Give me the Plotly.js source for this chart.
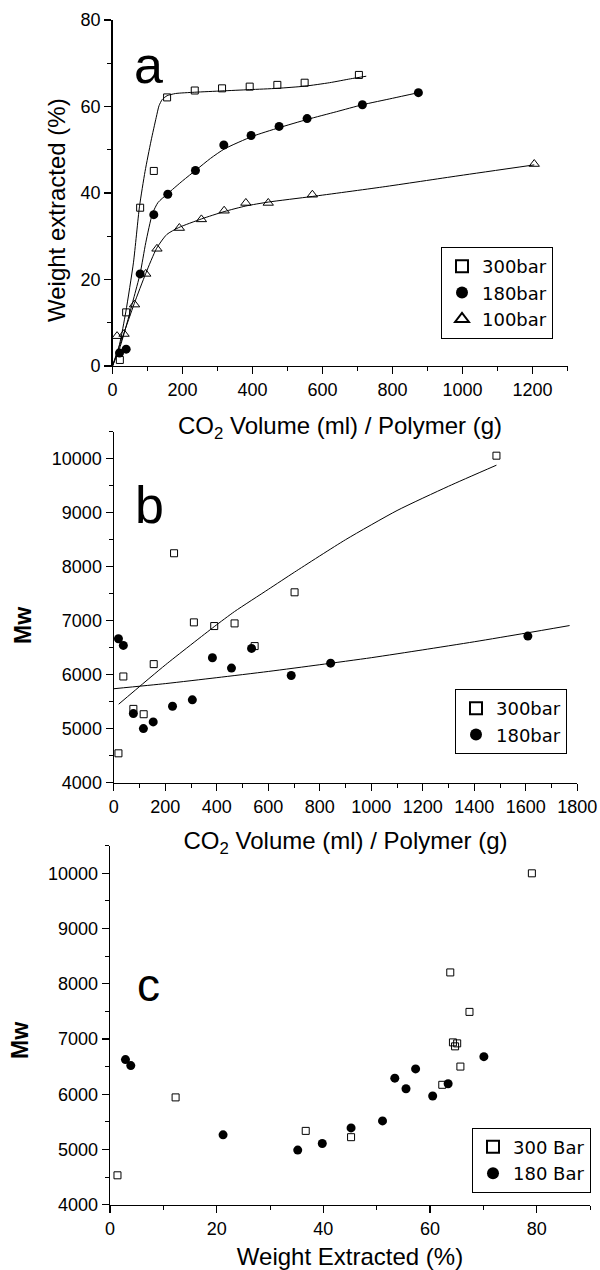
<!DOCTYPE html>
<html>
<head>
<meta charset="utf-8">
<script src="https://cdn.plot.ly/plotly-3.0.1.min.js"></script>
<style>html,body{margin:0;padding:0;background:#fff}#chart{width:600px;height:1270px}</style>
</head>
<body>
<div id="chart"></div>
<script>
// ---------- Panel a: weight extracted vs CO2 volume ----------
const a_x300 = [21, 39, 79, 118, 156, 235, 313, 392, 471, 549, 704];
const a_y300 = [1.4, 12.4, 36.6, 45.1, 62.1, 63.7, 64.2, 64.6, 65.0, 65.5, 67.3];
const a_x180 = [20, 39, 79, 118, 158, 237, 318, 396, 476, 556, 714, 874];
const a_y180 = [3.0, 3.9, 21.3, 35.0, 39.7, 45.2, 51.1, 53.3, 55.4, 57.2, 60.4, 63.2];
const a_x100 = [13, 33, 63, 95, 127, 191, 254, 319, 381, 445, 571, 1205];
const a_y100 = [6.9, 7.4, 14.2, 21.3, 27.1, 31.9, 33.9, 35.9, 37.7, 37.7, 39.6, 46.7];

// fitted curves
const a_fit300_x = [0, 20, 38, 60, 77, 93, 110, 125, 133, 142, 156, 180, 235, 313, 392, 471, 549, 620, 680, 725];
const a_fit300_y = [0, 5, 12.5, 24, 36.8, 45, 52, 57.5, 60.2, 61.6, 62.5, 63.0, 63.3, 63.6, 63.9, 64.2, 64.7, 65.5, 66.4, 67.0];
const a_fit180_x = [0, 20, 40, 60, 79, 95, 114, 130, 157, 200, 240, 280, 320, 400, 476, 556, 640, 714, 800, 874];
const a_fit180_y = [0, 4, 9.5, 15.5, 21.4, 28.5, 35.2, 37.8, 39.8, 42.8, 45.4, 48, 50.2, 53.1, 55.1, 57.0, 58.8, 60.4, 61.9, 63.2];
const a_fit100_x = [0, 30, 62, 95, 126, 155, 189, 254, 319, 381, 445, 571, 772, 990, 1205];
const a_fit100_y = [0, 7, 14.4, 21.4, 27.2, 30.4, 32.0, 34.0, 35.7, 37.0, 37.9, 39.2, 41.4, 44.0, 46.5];

// ---------- Panel b: Mw vs CO2 volume ----------
const b_x300 = [18, 37, 76, 116, 155, 234, 311, 390, 469, 547, 702, 1486];
const b_y300 = [4544, 5967, 5367, 5268, 6196, 8249, 6969, 6901, 6950, 6530, 7526, 10056];
const b_x180 = [18, 37, 76, 115, 153, 228, 305, 383, 457, 535, 689, 842, 1608];
const b_y180 = [6666, 6542, 5280, 5002, 5126, 5416, 5534, 6313, 6122, 6487, 5986, 6214, 6715];
const b_fit300_x = [19, 200, 390, 469, 600, 702, 900, 1100, 1300, 1486];
const b_fit300_y = [5454, 6180, 6890, 7170, 7580, 7900, 8500, 9040, 9490, 9880];
const b_fit180_x = [0, 200, 400, 600, 800, 1000, 1200, 1400, 1600, 1770];
const b_fit180_y = [5740, 5835, 5945, 6060, 6185, 6315, 6460, 6610, 6770, 6910];

// ---------- Panel c: Mw vs weight extracted ----------
const c_x300 = [1.4, 12.3, 36.7, 45.2, 62.3, 63.8, 64.3, 64.7, 65.1, 65.7, 67.4, 79.1];
const c_y300 = [4534, 5944, 5338, 5224, 6172, 8206, 6940, 6868, 6922, 6502, 7492, 10000];
const c_x180 = [2.9, 3.9, 21.2, 35.2, 39.8, 45.2, 51.1, 53.4, 55.5, 57.3, 60.5, 63.4, 70.1];
const c_y180 = [6628, 6520, 5266, 4990, 5110, 5392, 5518, 6292, 6100, 6460, 5970, 6192, 6682];

// labels
const namesA = ["300bar", "180bar", "100bar"];
const namesB = ["300bar", "180bar"];
const namesC = ["300 Bar", "180 Bar"];
const xTitleVol = "CO<sub>2</sub> Volume (ml) / Polymer (g)";
const yTitleA = "Weight extracted (%)";
const yTitleMw = "Mw";
const xTitleC = "Weight Extracted (%)";

const FONT = "Arial, 'Liberation Sans', sans-serif";
const LFONT = "'DejaVu Sans', sans-serif";
const W = 600, H = 1270;
const sq = {symbol: "square-open", size: 7, color: "#000", line: {width: 1, color: "#000"}};
const ci = {symbol: "circle", size: 9, color: "#000", line: {width: 0}};
const tr = {symbol: "triangle-up-open", size: 9, color: "#000", line: {width: 1, color: "#000"}};
const fitLine = {color: "#000", width: 1, shape: "spline", smoothing: 0.6};

function pts(x, y, name, marker, xa, ya, leg) {
  return {x: x, y: y, name: name, type: "scatter", mode: "markers", marker: marker,
          xaxis: xa, yaxis: ya, legend: leg, cliponaxis: false};
}
function fit(x, y, xa, ya) {
  return {x: x, y: y, type: "scatter", mode: "lines", line: fitLine, xaxis: xa, yaxis: ya,
          showlegend: false, hoverinfo: "skip"};
}

const data = [
  fit(a_fit300_x, a_fit300_y, "x", "y"),
  fit(a_fit180_x, a_fit180_y, "x", "y"),
  fit(a_fit100_x, a_fit100_y, "x", "y"),
  pts(a_x300, a_y300, namesA[0], sq, "x", "y", "legend"),
  pts(a_x180, a_y180, namesA[1], ci, "x", "y", "legend"),
  pts(a_x100, a_y100, namesA[2], tr, "x", "y", "legend"),
  fit(b_fit300_x, b_fit300_y, "x2", "y2"),
  fit(b_fit180_x, b_fit180_y, "x2", "y2"),
  pts(b_x300, b_y300, namesB[0], sq, "x2", "y2", "legend2"),
  pts(b_x180, b_y180, namesB[1], ci, "x2", "y2", "legend2"),
  pts(c_x300, c_y300, namesC[0], sq, "x3", "y3", "legend3"),
  pts(c_x180, c_y180, namesC[1], ci, "x3", "y3", "legend3")
];

function px(v) { return v / W; }
function py(v) { return 1 - v / H; }

function minor(dt) {
  return {ticks: "outside", ticklen: 4, tickwidth: 1, tickcolor: "#000", dtick: dt, showgrid: false};
}
function axis(extra) {
  return Object.assign({
    showgrid: false, zeroline: false, showline: true, linecolor: "#000", linewidth: 1.3,
    ticks: "outside", ticklen: 7, tickwidth: 1.2, tickcolor: "#000", tickformat: "d",
    tickfont: {family: FONT, size: 18, color: "#000"},
    fixedrange: true, automargin: false
  }, extra);
}
const titleFont = {family: FONT, size: 24, color: "#000"};
const mwFont = {family: FONT, size: 23, color: "#000", weight: "bold"};
const legFont = {family: LFONT, size: 18, color: "#000"};
function legend(x, y) {
  return {x: x, y: y, xanchor: "left", yanchor: "top", bgcolor: "#fff", bordercolor: "#000",
          borderwidth: 1, font: legFont, itemsizing: "constant", tracegroupgap: 0};
}
function ytitle(text, x, y, font) {
  return {text: text, xref: "paper", yref: "paper", x: px(x), y: py(y), xanchor: "center",
          yanchor: "middle", textangle: -90, showarrow: false, font: font};
}

const layout = {
  width: W, height: H,
  margin: {l: 0, r: 0, t: 0, b: 0, autoexpand: false},
  paper_bgcolor: "#fff", plot_bgcolor: "#fff",
  font: {family: FONT, color: "#000"},
  xaxis: axis({domain: [px(112.5), px(567.5)], anchor: "y", range: [0, 1300], dtick: 200,
    minor: minor(100), title: {text: xTitleVol, font: titleFont, standoff: 18}}),
  yaxis: axis({domain: [py(366), py(20)], anchor: "x", range: [0, 80], dtick: 20, minor: minor(10)}),
  xaxis2: axis({domain: [px(113.8), px(577.3)], anchor: "y2", range: [0, 1800], dtick: 200,
    minor: minor(100), title: {text: xTitleVol, font: titleFont, standoff: 16}}),
  yaxis2: axis({domain: [py(782.7), py(431.7)], anchor: "x2", range: [4000, 10500], dtick: 1000,
    minor: minor(500)}),
  xaxis3: axis({domain: [px(110), px(590)], anchor: "y3", range: [0, 90], dtick: 20,
    minor: minor(10), title: {text: xTitleC, font: titleFont, standoff: 23}}),
  yaxis3: axis({domain: [py(1204.8), py(845.7)], anchor: "x3", range: [4000, 10500], dtick: 1000,
    minor: minor(500)}),
  legend: legend(px(441), py(247)),
  legend2: legend(px(455), py(689)),
  legend3: legend(px(472), py(1127.6)),
  showlegend: true,
  annotations: [
    ytitle(yTitleA, 56, 210, titleFont),
    ytitle(yTitleMw, 23, 626, mwFont),
    ytitle(yTitleMw, 20, 1041, mwFont),
    {text: "a", xref: "x", yref: "y", x: 104, y: 69.7, xanchor: "center", yanchor: "middle",
     showarrow: false, font: {family: FONT, size: 52, color: "#000"}},
    {text: "b", xref: "x2", yref: "y2", x: 139, y: 9144, xanchor: "center", yanchor: "middle",
     showarrow: false, font: {family: FONT, size: 52, color: "#000"}},
    {text: "c", xref: "x3", yref: "y3", x: 7.3, y: 7980, xanchor: "center", yanchor: "middle",
     showarrow: false, font: {family: FONT, size: 46, color: "#000"}}
  ]
};

Plotly.newPlot("chart", data, layout, {displayModeBar: false, staticPlot: true});
</script>
</body>
</html>
